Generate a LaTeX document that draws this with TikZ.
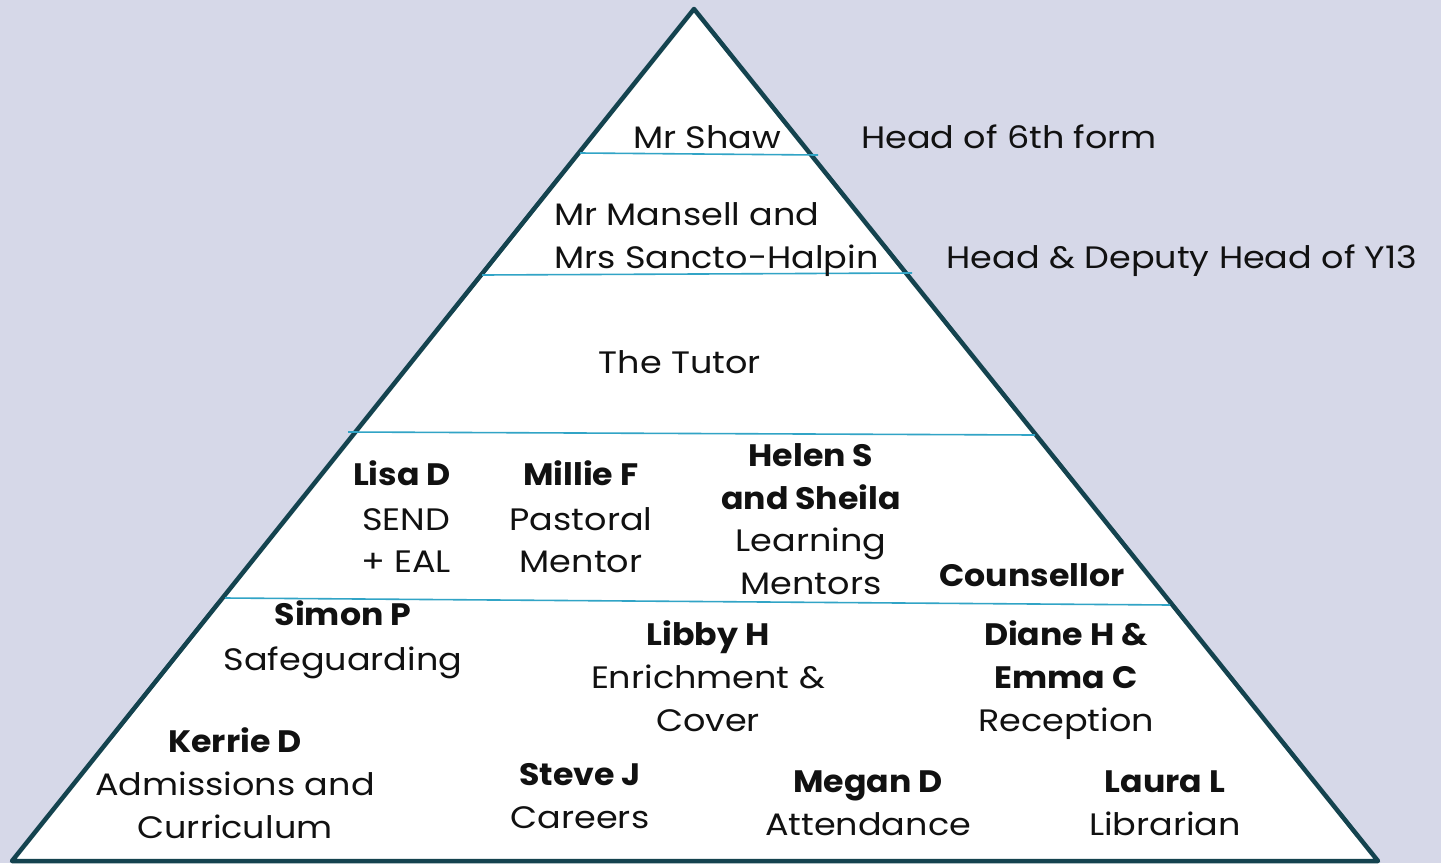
\documentclass[tikz,border=0pt]{standalone}
\usepackage{fontspec}
\setmainfont{Poppins}
\newfontfamily\regf{Poppins}[FakeStretch=1.13]
\newfontfamily\boldf{Poppins}[FakeStretch=1.07]
\definecolor{bgc}{HTML}{D6D8E8}
\definecolor{edgec}{HTML}{14434F}
\definecolor{sepc}{HTML}{31A4C6}
\definecolor{txtc}{HTML}{111111}
\begin{document}
\begin{tikzpicture}[x=1pt,y=-1pt,
  lbl/.style={anchor=base,inner sep=0pt,font=\regf\fontsize{31}{37}\selectfont,text=txtc},
  blbl/.style={lbl,font=\boldf\fontsize{31}{37}\selectfont\bfseries},
  sep/.style={draw=sepc,line width=1.6pt}]
\useasboundingbox (0,0) rectangle (1441,863);
\fill[bgc] (0,0) rectangle (1441,863);
\coordinate (apex) at (694,9);
\coordinate (bl) at (12,861);
\coordinate (br) at (1378,861);
\filldraw[fill=white,draw=edgec,line width=4.5pt,line join=round] (apex) -- (br) -- (bl) -- cycle;
% separators
\coordinate (s1a) at (580,153); \coordinate (s1b) at (818,155);
\coordinate (s2a) at (482,275); \coordinate (s2b) at (912,273);
\coordinate (s3a) at (348,432); \coordinate (s3b) at (1035,435);
\coordinate (s4a) at (225,598); \coordinate (s4b) at (1170,605);
\draw[sep] (s1a) -- (s1b);
\draw[sep] (s2a) -- (s2b);
\draw[sep] (s3a) -- (s3b);
\draw[sep] (s4a) -- (s4b);
% texts
\node[lbl] (shaw) at (707,148) {Mr Shaw};
\node[lbl] (h6) at (1009,148) {Head of 6th form};
\node[lbl,anchor=base west] (mm1) at (554,225) {Mr Mansell and};
\node[lbl,anchor=base west] (mm2) at (554,268) {Mrs Sancto-Halpin};
\node[lbl] (hd) at (1182,268) {Head \& Deputy Head of Y13};
\node[lbl] (tut) at (680,373) {The Tutor};
\node[blbl] (ld1) at (402,485) {Lisa D};
\node[lbl] (ld2) at (406,530) {SEND};
\node[lbl] (ld3) at (406,572) {+ EAL};
\node[blbl] (mf1) at (581,485) {Millie F};
\node[lbl] (mf2) at (581,530) {Pastoral};
\node[lbl] (mf3) at (581,572) {Mentor};
\node[blbl] (hs1) at (811,466) {Helen S};
\node[blbl] (hs2) at (811,509) {and Sheila};
\node[lbl] (hs3) at (811,551) {Learning};
\node[lbl] (hs4) at (811,594) {Mentors};
\node[blbl] (cou) at (1032,586) {Counsellor};
\node[blbl] (sp1) at (343,625) {Simon P};
\node[lbl] (sp2) at (343,670) {Safeguarding};
\node[blbl] (lh1) at (708,645) {Libby H};
\node[lbl] (lh2) at (708,688) {Enrichment \&};
\node[lbl] (lh3) at (708,731) {Cover};
\node[blbl] (dh1) at (1066,645) {Diane H \&};
\node[blbl] (dh2) at (1066,688) {Emma C};
\node[lbl] (dh3) at (1066,731) {Reception};
\node[blbl] (kd1) at (235,752) {Kerrie D};
\node[lbl] (kd2) at (235,795) {Admissions and};
\node[lbl] (kd3) at (235,838) {Curriculum};
\node[blbl] (sj1) at (580,785) {Steve J};
\node[lbl] (sj2) at (580,828) {Careers};
\node[blbl] (md1) at (868,792) {Megan D};
\node[lbl] (md2) at (868,835) {Attendance};
\node[blbl] (ll1) at (1165,792) {Laura L};
\node[lbl] (ll2) at (1165,835) {Librarian};
\end{tikzpicture}
\end{document}
